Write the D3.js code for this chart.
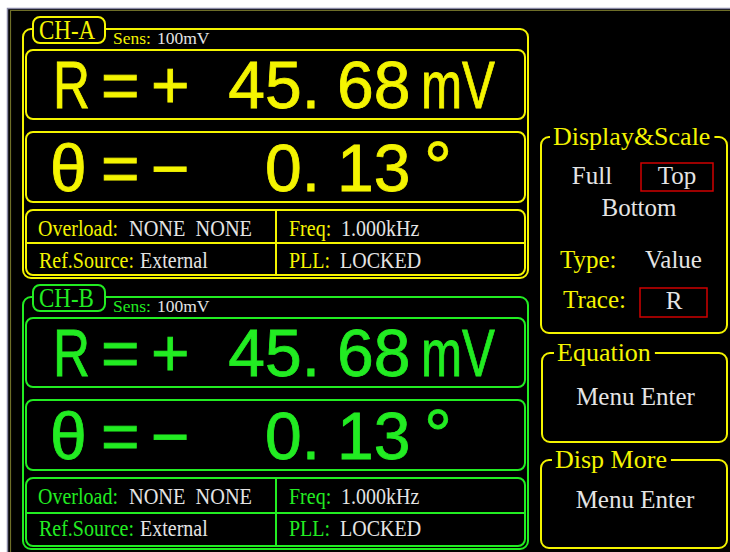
<!DOCTYPE html>
<html>
<head>
<meta charset="utf-8">
<script src="https://cdn.jsdelivr.net/npm/d3@7"></script>
<style>
  body { margin: 0; background: #fff; }
  svg { display: block; }
  text { white-space: pre; }
</style>
</head>
<body>
<div id="chartContainer"></div>
<script>
const channels = ["CH-A", "CH-B"];
const sensLabels = ["100mV", "100mV"];
const rValues = [45.68, 45.68];
const rUnits = ["mV", "mV"];
const thetaValues = [-0.13, -0.13];
const overloadStates = ["NONE  NONE", "NONE  NONE"];
const refSources = ["External", "External"];
const freqLabels = ["1.000kHz", "1.000kHz"];
const pllStates = ["LOCKED", "LOCKED"];
const displayModes = ["Full", "Top", "Bottom"];
const selectedMode = "Top";
const typeValue = "Value";
const traceValue = "R";
const menuTitles = ["Equation", "Disp More"];
const menuAction = "Menu Enter";

const w = 730, h = 552;
const yellow = "#f4f400", green = "#22ec22", white = "#e4e4e4", red = "#d00000";
const serif = "'Liberation Serif', 'Times New Roman', serif";
const sans = "'Liberation Sans', Arial, sans-serif";

// Farve og lodret placering pr. kanal
const color = d3.scaleOrdinal(channels, [yellow, green]);
const panelY = d3.scalePoint(channels, [0, 268]);

const svg = d3.select("#chartContainer").append("svg")
    .attr("width", w).attr("height", h);

// Skærm-baggrund
svg.append("rect").attr("x", 7).attr("y", 8).attr("width", w - 7).attr("height", h - 8).attr("fill", "#000");
svg.append("path").attr("d", `M7.5,${h}V8.5H${w}`).attr("fill", "none").attr("stroke", "#8a8aa6").attr("stroke-width", 1.5);
svg.append("path").attr("d", `M10.5,${h}V10.5H${w}`).attr("fill", "none").attr("stroke", "#6e6e28").attr("stroke-width", 1.2);

function addText(g, x, y, s, o = {}) {
    const t = g.append("text")
        .attr("x", x).attr("y", y)
        .attr("fill", o.fill || white)
        .attr("font-family", o.family || serif)
        .attr("font-size", o.size || 20)
        .attr("text-anchor", o.anchor || "start")
        .text(s);
    if (o.len) t.attr("textLength", o.len).attr("lengthAdjust", "spacingAndGlyphs");
    if (o.sy) t.attr("transform", `translate(0,${y}) scale(1,${o.sy}) translate(0,${-y})`);
    if (o.bold) t.attr("stroke", o.fill).attr("stroke-width", o.bold);
    return t;
}

function box(g, x0, y0, x1, y1, stroke, r = 7, fill = "none", sw = 2) {
    return g.append("rect")
        .attr("x", x0).attr("y", y0)
        .attr("width", x1 - x0).attr("height", y1 - y0)
        .attr("rx", r)
        .attr("fill", fill).attr("stroke", stroke).attr("stroke-width", sw);
}

// Kanalpaneler
channels.forEach((ch, i) => {
    const c = color(ch);
    const g = svg.append("g").attr("transform", `translate(0,${panelY(ch)})`);
    const extra = i === 1 ? 3 : 0;
    const big = { fill: c, size: 66, family: sans, bold: 0.8 };

    box(g, 23, 29, 528, 278 + extra, c, 8);
    box(g, 33, 17, 105, 43, c, 7, "#000");
    addText(g, 39, 39, ch, { fill: c, size: 23, sy: 1.2 });
    addText(g, 113, 44, "Sens:", { fill: c, size: 17.5 });
    addText(g, 157, 44, sensLabels[i], { size: 17.5 });

    // R række
    box(g, 26, 50, 525, 119, c, 7);
    const rv = rValues[i];
    const rp = Math.abs(rv).toFixed(2).split(".");
    addText(g, 53, 108, "R", { ...big, len: 37 });
    addText(g, 101, 108, "=", big);
    addText(g, 151, 108, rv < 0 ? "\u2212" : "+", big);
    addText(g, 320, 108, rp[0] + ".", { ...big, anchor: "end" });
    addText(g, 337, 108, rp[1], big);
    addText(g, 421, 108, rUnits[i], { ...big, len: 74 });

    // θ række
    box(g, 26, 132, 525, 202, c, 7);
    const tv = thetaValues[i];
    const tp = Math.abs(tv).toFixed(2).split(".");
    addText(g, 50, 191, "\u03b8", big);
    addText(g, 101, 191, "=", big);
    addText(g, 151, 191, tv < 0 ? "\u2212" : "+", big);
    addText(g, 320, 191, tp[0] + ".", { ...big, anchor: "end" });
    addText(g, 337, 191, tp[1], big);
    addText(g, 424, 191, "\u00b0", { ...big, size: 70 });

    // Statusfelt
    const ib = 275 + extra, mid = 243 + Math.round(extra / 2);
    box(g, 26, 210, 525, ib, c, 7);
    g.append("line").attr("x1", 26).attr("x2", 525).attr("y1", mid).attr("y2", mid).attr("stroke", c).attr("stroke-width", 2);
    g.append("line").attr("x1", 276).attr("x2", 276).attr("y1", 210).attr("y2", ib).attr("stroke", c).attr("stroke-width", 2);

    addText(g, 38, 236, "Overload:", { fill: c, size: 20, sy: 1.15 });
    addText(g, 129, 236, overloadStates[i], { size: 20, sy: 1.15, len: 123 });
    addText(g, 289, 236, "Freq:", { fill: c, size: 20, sy: 1.15 });
    addText(g, 341, 236, freqLabels[i], { size: 20, sy: 1.15 });
    addText(g, 39, 268, "Ref.Source:", { fill: c, size: 20, sy: 1.15 });
    addText(g, 140, 268, refSources[i], { size: 20, sy: 1.15 });
    addText(g, 289, 268, "PLL:", { fill: c, size: 20, sy: 1.15 });
    addText(g, 340, 268, pllStates[i], { size: 20, sy: 1.15 });
});

// Ramme med titel i toplinjen
function titledFrame(x0, y0, x1, y1, title, tx) {
    const t = addText(svg, tx, y0 + 8, title, { fill: yellow, size: 26 });
    const tw = t.node().getComputedTextLength();
    const r = 8;
    const p = d3.path();
    p.moveTo(tx - 3, y0);
    p.lineTo(x0 + r, y0);
    p.arcTo(x0, y0, x0, y0 + r, r);
    p.lineTo(x0, y1 - r);
    p.arcTo(x0, y1, x0 + r, y1, r);
    p.lineTo(x1 - r, y1);
    p.arcTo(x1, y1, x1, y1 - r, r);
    p.lineTo(x1, y0 + r);
    p.arcTo(x1, y0, x1 - r, y0, r);
    p.lineTo(tx + tw + 4, y0);
    svg.append("path").attr("d", p.toString())
        .attr("fill", "none").attr("stroke", yellow).attr("stroke-width", 2);
}

// Display&Scale
titledFrame(541, 137, 727, 333, "Display&Scale", 553);
const modePos = [[592, 184], [677, 184], [639, 216]];
displayModes.forEach((m, i) => {
    if (m === selectedMode) box(svg, 641, 163, 713, 191, red, 0, "none", 1.5);
    addText(svg, modePos[i][0], modePos[i][1], m, { size: 25, anchor: "middle" });
});
addText(svg, 560, 268, "Type:", { fill: yellow, size: 25 });
addText(svg, 645, 268, typeValue, { size: 25 });
addText(svg, 563, 308, "Trace:", { fill: yellow, size: 25 });
box(svg, 640, 288, 707, 317, red, 0, "none", 1.5);
addText(svg, 674, 309, traceValue, { size: 25, anchor: "middle" });

// Menuer
const menuBoxes = [[542, 353, 727, 442, 557, 405], [541, 460, 727, 548, 555, 508]];
menuTitles.forEach((m, i) => {
    const b = menuBoxes[i];
    titledFrame(b[0], b[1], b[2], b[3], m, b[4]);
    addText(svg, (b[0] + b[2]) / 2 + 1, b[5], menuAction, { size: 25, anchor: "middle" });
});
</script>
</body>
</html>
